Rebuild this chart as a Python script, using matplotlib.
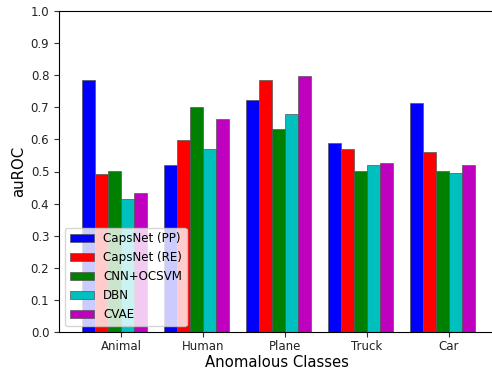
import numpy as np
import matplotlib
matplotlib.use("Agg")
import matplotlib.pyplot as plt


classes = ["Animal", "Human", "Plane", "Truck", "Car"]
methods = ["CapsNet (PP)", "CapsNet (RE)", "CNN+OCSVM", "DBN", "CVAE"]
colors = ["b", "r", "g", "c", "m"]

capsnet_pp = [0.785, 0.519, 0.722, 0.589, 0.714]
capsnet_re = [0.491, 0.598, 0.785, 0.571, 0.561]
cnn_ocsvm = [0.502, 0.700, 0.632, 0.503, 0.503]
dbn = [0.414, 0.571, 0.678, 0.519, 0.494]
cvae = [0.432, 0.663, 0.797, 0.525, 0.519]

scores = [capsnet_pp, capsnet_re, cnn_ocsvm, dbn, cvae]

W = 0.16

fig = plt.figure(figsize=(4.92, 3.71), dpi=100)
ax = fig.add_axes([59 / 492, 39 / 371, 435 / 492, 321 / 371])

x = np.arange(len(classes))
for i, (vals, name, col) in enumerate(zip(scores, methods, colors)):
    ax.bar(x + (i - 3) * W, vals, W, align="edge", color=col,
           edgecolor="#555555", linewidth=0.5, label=name)

ax.set_xticks(x)
ax.set_xticklabels(classes)
ax.set_yticks(np.arange(0, 1.01, 0.1))
ax.tick_params(labelsize=8.5, length=3.5, colors="#333333", labelcolor="#222222")
ax.tick_params(axis="x", pad=2.5)
ax.set_ylim(0, 1.0)
ax.set_xlim(-0.756, 4.549)

ax.set_xlabel("Anomalous Classes", fontsize=10.7, labelpad=1)
ax.set_ylabel("auROC", fontsize=10.7, labelpad=3)

ax.legend(loc="lower left", fontsize=8.6)

fig.savefig("out.png", dpi=100)
